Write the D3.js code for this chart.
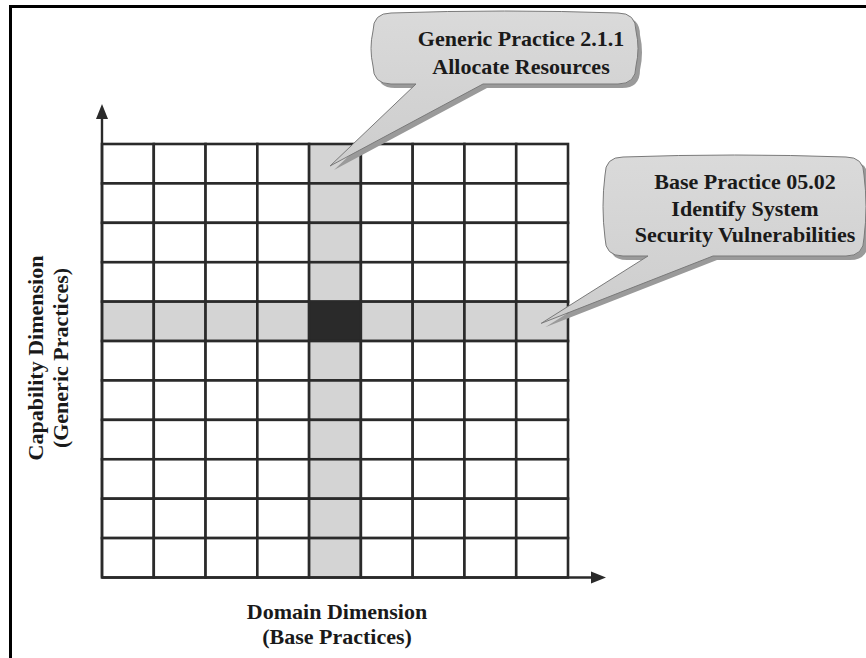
<!DOCTYPE html>
<html><head><meta charset="utf-8">
<script src="https://cdn.jsdelivr.net/npm/d3@7"></script>
<style>body{margin:0;background:#fff}svg{display:block}</style>
</head><body><svg id="c" width="866" height="658"></svg>
<script>
// ---- data ----
const basePractices = ["BP1","BP2","BP3","BP4","BP5","BP6","BP7","BP8","BP9"];
const genericPractices = ["GP1","GP2","GP3","GP4","GP5","GP6","GP7","GP8","GP9","GP10","GP11"];
const selectedBase = "BP5";      // Base Practice 05.02
const selectedGeneric = "GP5";   // Generic Practice 2.1.1
const calloutGeneric = ["Generic Practice 2.1.1", "Allocate Resources"];
const calloutBase = ["Base Practice 05.02", "Identify System", "Security Vulnerabilities"];
const xTitle = ["Domain Dimension", "(Base Practices)"];
const yTitle = ["Capability Dimension", "(Generic Practices)"];

const svg = d3.select("#c");
const font = "'Liberation Serif','Times New Roman',serif";

// frame
svg.append("path").attr("d","M10.5,658 V6.5 H866").attr("fill","none").attr("stroke","#000").attr("stroke-width",3);

const x = d3.scaleBand().domain(basePractices).range([102, 568]).padding(0);
const y = d3.scaleBand().domain(genericPractices).range([144, 577.5]).padding(0);

const cells = [];
genericPractices.forEach(g => basePractices.forEach(b => cells.push({g, b})));

const g = svg.append("g");
g.selectAll("rect.cell").data(cells).join("rect")
  .attr("class","cell")
  .attr("x", d => x(d.b)).attr("y", d => y(d.g))
  .attr("width", x.bandwidth()).attr("height", y.bandwidth())
  .attr("fill", d => (d.b===selectedBase && d.g===selectedGeneric) ? "#2a2a2a"
        : (d.b===selectedBase || d.g===selectedGeneric) ? "#d4d4d4" : "#fff")
  .attr("stroke","#2a2a2a").attr("stroke-width",2.6);

// axes arrows
const x0 = x.range()[0], yBottom = y.range()[1];
svg.append("line").attr("x1",x0).attr("y1",yBottom).attr("x2",x0).attr("y2",116)
  .attr("stroke","#2a2a2a").attr("stroke-width",2.4);
svg.append("path").attr("d",`M${x0},104 L${x0-6},119 L${x0+6},119 Z`).attr("fill","#2a2a2a");
svg.append("line").attr("x1",x0).attr("y1",yBottom).attr("x2",594).attr("y2",yBottom)
  .attr("stroke","#2a2a2a").attr("stroke-width",2.4);
svg.append("path").attr("d",`M606,${yBottom} L591,${yBottom-6} L591,${yBottom+6} Z`).attr("fill","#2a2a2a");

// callouts
function bubblePath(x1,y1,x2,y2,r,tb1,tb2,tx,ty){
  const b = 4; // bulge
  return `M${x1+r},${y1}`+
    ` Q${(x1+x2)/2},${y1-b} ${x2-r},${y1}`+
    ` Q${x2},${y1} ${x2},${y1+r}`+
    ` Q${x2+b},${(y1+y2)/2} ${x2},${y2-r}`+
    ` Q${x2},${y2} ${x2-r},${y2}`+
    ` L${tb2},${y2} L${tx},${ty} L${tb1},${y2}`+
    ` L${x1+r},${y2}`+
    ` Q${x1},${y2} ${x1},${y2-r}`+
    ` Q${x1-b},${(y1+y2)/2} ${x1},${y1+r}`+
    ` Q${x1},${y1} ${x1+r},${y1} Z`;
}
const defs = svg.append("defs");
const grad = defs.append("linearGradient").attr("id","bg").attr("x1",0).attr("y1",0).attr("x2",0).attr("y2",1);
grad.append("stop").attr("offset","0%").attr("stop-color","#dadada");
grad.append("stop").attr("offset","100%").attr("stop-color","#cdcdcd");

function callout(box, lines, cx, firstY, lh){
  const d = bubblePath(...box);
  svg.append("path").attr("d",d).attr("transform","translate(4,4)").attr("fill","#9a9a9a");
  svg.append("path").attr("d",d).attr("fill","url(#bg)").attr("stroke","#7a7a7a").attr("stroke-width",1);
  svg.append("text").attr("font-family",font).attr("font-weight","bold").attr("font-size",22)
    .attr("fill","#1a1a1a").attr("text-anchor","middle")
    .selectAll("tspan").data(lines).join("tspan")
    .attr("x",cx).attr("y",(d,i)=>firstY+i*lh).text(d=>d);
}
const gx = x(selectedBase) + x.bandwidth()/2, gy = y(genericPractices[0]) + 22;
callout([373,13,636,84,18,416,483,gx-5,gy], calloutGeneric, 521, 46, 28);
const bx = x(basePractices[basePractices.length-1]) + 25, by = y(selectedGeneric) + y.bandwidth()/2 + 2;
callout([605,157,864,256,18,648,713,bx,by], calloutBase, 745, 189, 26.5);

// axis titles
svg.append("text").attr("font-family",font).attr("font-weight","bold").attr("font-size",22)
  .attr("fill","#1a1a1a").attr("text-anchor","middle")
  .selectAll("tspan").data(xTitle).join("tspan")
  .attr("x",337).attr("y",(d,i)=>619+i*25).text(d=>d);
svg.append("text").attr("font-family",font).attr("font-weight","bold").attr("font-size",22)
  .attr("fill","#1a1a1a").attr("text-anchor","middle")
  .attr("transform","translate(0,358) rotate(-90)")
  .selectAll("tspan").data(yTitle).join("tspan")
  .attr("x",0).attr("y",(d,i)=>43+i*25).text(d=>d);
</script></body></html>
